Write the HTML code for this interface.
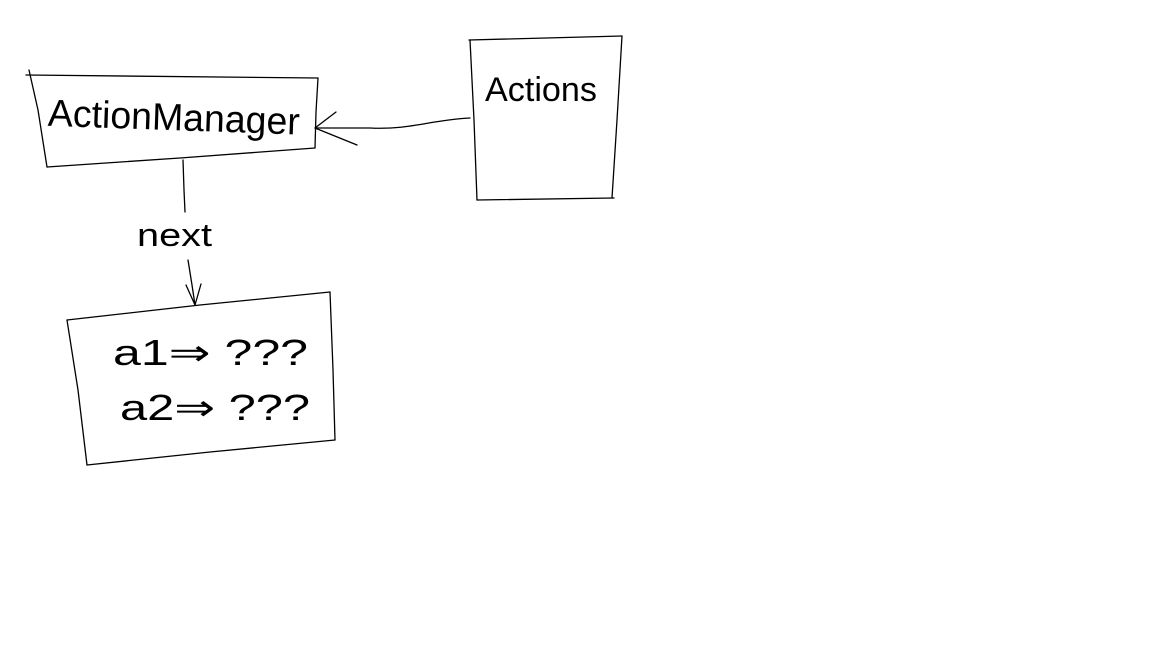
<!DOCTYPE html>
<html><head><meta charset="utf-8"><style>
html,body{margin:0;padding:0;background:#fff;width:1152px;height:648px;overflow:hidden}
svg text{font-family:"Liberation Sans",sans-serif;fill:#000;font-weight:normal}
</style></head><body>
<svg width="1152" height="648" viewBox="0 0 1152 648" xmlns="http://www.w3.org/2000/svg">
<g fill="none" stroke="#000" stroke-width="1.3" stroke-linecap="round" stroke-linejoin="round">
<!-- ActionManager box -->
<path d="M26,75 L318,78"/>
<path d="M29,70 L38,110 L47,167"/>
<path d="M47,167 L180,158 L315,148"/>
<path d="M318,78 L316,112 L315,148"/>
<!-- Actions box -->
<path d="M469,40 L622,36"/>
<path d="M470,40 L474,120 L477,200"/>
<path d="M477,200 L614,198"/>
<path d="M622,36 L617,120 L612,198"/>
<!-- arrow Actions -> ActionManager -->
<path d="M470,118 C430,120 410,130 370,128 L315,128"/>
<path d="M336,112 L315,128 L357,145"/>
<!-- next connector -->
<path d="M183,160 L184,190 L185,212"/>
<path d="M188,260 L192,285 L195,305"/>
<path d="M186,285 L195,305 L201,284"/>
<!-- bottom box -->
<path d="M67,320 L200,305 L330,292"/>
<path d="M67,320 L78,390 L87,465"/>
<path d="M87,465 L210,452 L335,440"/>
<path d="M330,292 L333,370 L335,440"/>
</g>
<text x="48" y="130" font-size="38" textLength="252" lengthAdjust="spacingAndGlyphs" transform="rotate(2 170 115)">ActionManager</text>
<text x="485" y="101" font-size="34" textLength="112" lengthAdjust="spacingAndGlyphs">Actions</text>
<text x="137" y="246" font-size="32" textLength="75" lengthAdjust="spacingAndGlyphs">next</text>
<text x="113" y="365" font-size="36" textLength="195" lengthAdjust="spacingAndGlyphs">a1⇒ ???</text>
<text x="120" y="420" font-size="36" textLength="190" lengthAdjust="spacingAndGlyphs">a2⇒ ???</text>
</svg>
</body></html>
